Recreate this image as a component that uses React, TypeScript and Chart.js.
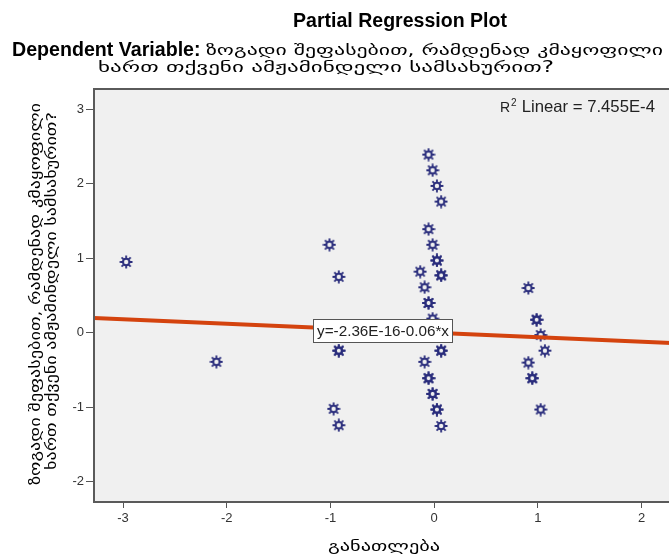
import React, { useEffect, useRef } from "react";
import { Chart, registerables } from "chart.js";

Chart.register(...registerables);

const chartTitle = "Partial Regression Plot";
const subtitleLead = "Dependent Variable: ";
const dependentLine1 = "ზოგადი შეფასებით, რამდენად კმაყოფილი";
const dependentLine2 = "ხართ თქვენი ამჟამინდელი სამსახურით?";
const xAxisTitle = "განათლება";
const r2Value = "Linear = 7.455E-4";
const equationLabel = "y=-2.36E-16-0.06*x";

const xTickValues = [-3, -2, -1, 0, 1, 2];
const yTickValues = [-2, -1, 0, 1, 2, 3];

// residual points (duplicates = overlapping cases)
const residX = [
  -2.97, -2.1, -1.01, -0.92, -0.92, -0.92, -0.97, -0.92,
  -0.055, -0.016, 0.026, 0.067, -0.055, -0.016, 0.026, 0.026, 0.067, 0.067,
  -0.135, -0.093, -0.055, -0.055, -0.016, 0.067, 0.067, -0.093, -0.055, -0.055,
  -0.016, -0.016, 0.026, 0.026, 0.067,
  0.907, 0.987, 0.987, 1.026, 1.067, 0.907, 0.945, 0.945, 1.026,
];
const residY = [
  0.95, -0.39, 1.18, 0.75, -0.24, -0.24, -1.02, -1.24,
  2.39, 2.18, 1.97, 1.76, 1.39, 1.18, 0.97, 0.97, 0.77, 0.77,
  0.82, 0.61, 0.4, 0.4, 0.19, -0.24, -0.24, -0.39, -0.61, -0.61,
  -0.82, -0.82, -1.03, -1.03, -1.25,
  0.6, 0.175, 0.175, -0.03, -0.24, -0.4, -0.61, -0.61, -1.03,
];

const fitLineX = [-3.28, 2.62];
const fitLineY = [0.197, -0.157];

const FAMILY = '"Liberation Sans", Arial, "DejaVu Sans", sans-serif';
const GEO = '"DejaVu Sans", sans-serif';

function fitSize(ctx: CanvasRenderingContext2D, text: string, weight: string, family: string, target: number) {
  ctx.font = `${weight} 20px ${family}`;
  const w = ctx.measureText(text).width;
  return (20 * target) / w;
}

// draw text at a fixed size, stretched horizontally to a target width
function drawStretched(
  ctx: CanvasRenderingContext2D,
  text: string,
  x: number,
  y: number,
  size: number,
  family: string,
  weight: string,
  target: number,
  align: "left" | "center"
) {
  ctx.save();
  ctx.font = `${weight} ${size}px ${family}`;
  const w = ctx.measureText(text).width;
  const k = target / w;
  ctx.translate(x, y);
  ctx.scale(k, 1);
  ctx.textAlign = align;
  ctx.fillText(text, 0, 0);
  ctx.restore();
}

function makeGear(color: string) {
  const c = document.createElement("canvas");
  c.width = 14;
  c.height = 14;
  const g = c.getContext("2d")!;
  g.translate(7, 7);
  g.strokeStyle = color;
  g.lineWidth = 2;
  g.beginPath();
  g.arc(0, 0, 3.2, 0, Math.PI * 2);
  g.stroke();
  g.lineWidth = 1.8;
  g.beginPath();
  for (let i = 0; i < 8; i++) {
    const a = (i * Math.PI) / 4;
    g.moveTo(Math.cos(a) * 3.6, Math.sin(a) * 3.6);
    g.lineTo(Math.cos(a) * 6.4, Math.sin(a) * 6.4);
  }
  g.stroke();
  return c;
}

const decor = {
  id: "decor",
  beforeDraw(chart: any) {
    const { ctx, chartArea: a, width, height } = chart;
    ctx.save();
    ctx.fillStyle = "#ffffff";
    ctx.fillRect(0, 0, width, height);
    ctx.fillStyle = "#F0F0F0";
    ctx.fillRect(a.left, a.top, a.right - a.left, a.bottom - a.top);
    ctx.restore();
  },
  afterDatasetsDraw(chart: any) {
    const { ctx, chartArea: a } = chart;
    ctx.save();
    // plot frame
    ctx.strokeStyle = "#5a5a5a";
    ctx.lineWidth = 2;
    ctx.strokeRect(a.left, a.top, a.right - a.left, a.bottom - a.top);

    // equation box
    const bx = 313, by = 319, bw = 140, bh = 24;
    ctx.fillStyle = "#ffffff";
    ctx.fillRect(bx, by, bw, bh);
    ctx.strokeStyle = "#555555";
    ctx.lineWidth = 1;
    ctx.strokeRect(bx + 0.5, by + 0.5, bw - 1, bh - 1);
    const es = fitSize(ctx, equationLabel, "normal", FAMILY, 132);
    ctx.font = `normal ${es}px ${FAMILY}`;
    ctx.fillStyle = "#222222";
    ctx.textAlign = "center";
    ctx.textBaseline = "middle";
    ctx.fillText(equationLabel, bx + bw / 2, by + bh / 2 + 1);

    // R2 label
    ctx.textAlign = "left";
    ctx.textBaseline = "alphabetic";
    ctx.font = `normal 14px ${FAMILY}`;
    ctx.fillStyle = "#222222";
    ctx.fillText("R", 500, 112);
    const rw = ctx.measureText("R").width;
    ctx.font = `normal 10px ${FAMILY}`;
    ctx.fillText("2", 500 + rw + 1, 106);
    const tw = ctx.measureText("2").width;
    const rs = fitSize(ctx, r2Value, "normal", FAMILY, 655 - (500 + rw + tw + 6));
    ctx.font = `normal ${rs}px ${FAMILY}`;
    ctx.fillText(r2Value, 500 + rw + tw + 6, 112);
    ctx.restore();
  },
  afterDraw(chart: any) {
    const { ctx } = chart;
    ctx.save();
    ctx.fillStyle = "#000000";
    ctx.textBaseline = "alphabetic";

    // main title
    const ts = fitSize(ctx, chartTitle, "bold", FAMILY, 214);
    ctx.font = `bold ${ts}px ${FAMILY}`;
    ctx.textAlign = "center";
    ctx.fillText(chartTitle, 400, 27);

    // subtitle line 1
    ctx.textAlign = "left";
    const ls = fitSize(ctx, subtitleLead, "bold", FAMILY, 194);
    ctx.font = `bold ${ls}px ${FAMILY}`;
    const leadW = ctx.measureText(subtitleLead).width;
    ctx.fillText(subtitleLead, 12, 56);
    const gx = 12 + leadW;
    drawStretched(ctx, dependentLine1, gx, 55, 15, GEO, "normal", 663 - gx, "left");

    // subtitle line 2
    drawStretched(ctx, dependentLine2, 326, 72, 15, GEO, "normal", 456, "center");

    // x axis title
    drawStretched(ctx, xAxisTitle, 384, 551, 15, GEO, "normal", 112, "center");

    // y axis title
    ctx.translate(40, 294);
    ctx.rotate(-Math.PI / 2);
    drawStretched(ctx, dependentLine1, 0, 0, 14, GEO, "normal", 382, "center");
    drawStretched(ctx, dependentLine2, 3, 16, 14, GEO, "normal", 358, "center");
    ctx.restore();
  },
};

export default function App() {
  const ref = useRef<HTMLCanvasElement | null>(null);

  useEffect(() => {
    if (!ref.current) return;
    const gear = makeGear("#2A2D7C");
    const points = residX.map((x, i) => ({ x, y: residY[i] }));
    const line = fitLineX.map((x, i) => ({ x, y: fitLineY[i] }));
    const tickFont = { family: FAMILY, size: 13 };

    const chart = new Chart(ref.current, {
      type: "scatter",
      data: {
        datasets: [
          {
            type: "line",
            data: line,
            borderColor: "#D4430E",
            borderWidth: 4,
            pointRadius: 0,
            fill: false,
            order: 0,
          } as any,
          {
            type: "scatter",
            data: points,
            pointStyle: gear as any,
            pointRadius: 6,
            order: 1,
          } as any,
        ],
      },
      options: {
        animation: false,
        responsive: false,
        devicePixelRatio: 1,
        layout: { padding: { top: 89, right: 14, left: 0, bottom: 0 } },
        plugins: {
          legend: { display: false },
          tooltip: { enabled: false },
          title: { display: false },
        },
        scales: {
          x: {
            type: "linear",
            min: -3.28,
            max: 2.62,
            afterBuildTicks: (s: any) => {
              s.ticks = xTickValues.map((v) => ({ value: v }));
            },
            afterFit: (s: any) => {
              s.height = 55;
            },
            grid: { drawOnChartArea: false, drawTicks: true, tickLength: 6, tickColor: "#555", tickWidth: 1 },
            border: { display: false },
            ticks: { color: "#333", font: tickFont, padding: 3, maxRotation: 0, autoSkip: false },
          },
          y: {
            type: "linear",
            min: -2.27,
            max: 3.27,
            afterBuildTicks: (s: any) => {
              s.ticks = yTickValues.map((v) => ({ value: v }));
            },
            afterFit: (s: any) => {
              s.width = 94;
            },
            grid: { drawOnChartArea: false, drawTicks: true, tickLength: 8, tickColor: "#555", tickWidth: 1 },
            border: { display: false },
            ticks: { color: "#333", font: tickFont, padding: 2, autoSkip: false },
          },
        },
      },
      plugins: [decor],
    });
    return () => chart.destroy();
  }, []);

  return (
    <div
      style={{
        position: "fixed",
        left: 0,
        top: 0,
        width: 669,
        height: 557,
        overflow: "hidden",
        background: "#fff",
      }}
    >
      <canvas ref={ref} width={720} height={557} style={{ display: "block" }} />
    </div>
  );
}
